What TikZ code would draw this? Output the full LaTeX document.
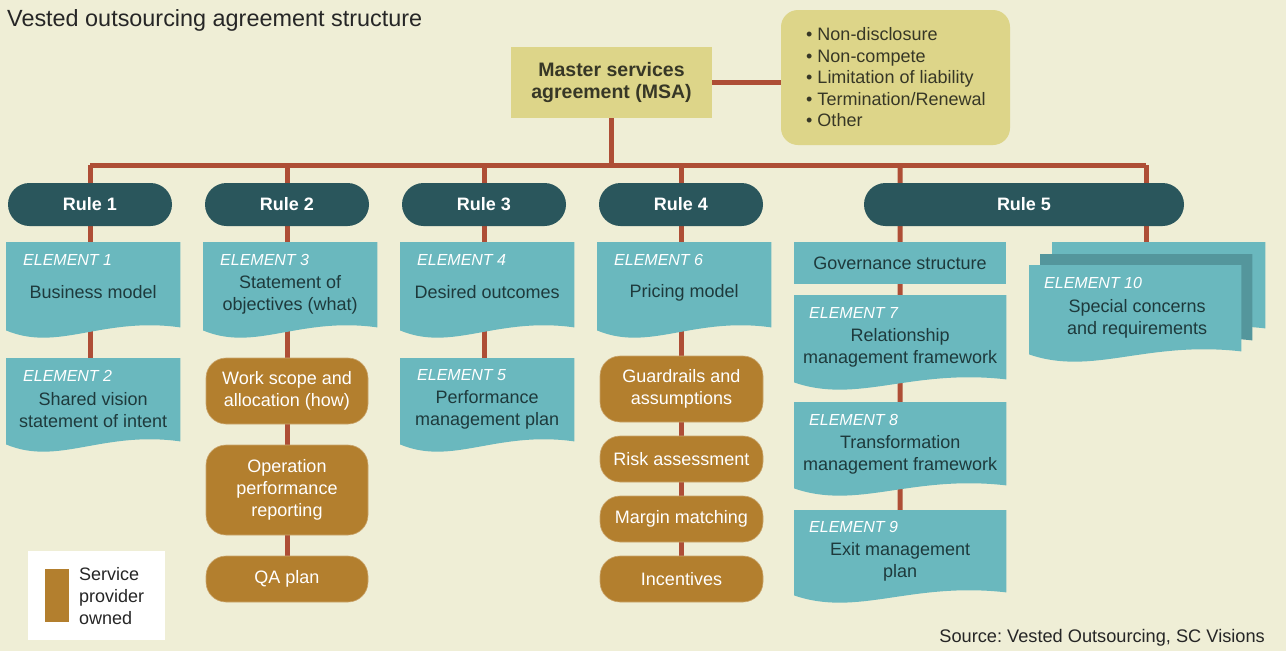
\documentclass[tikz,border=0pt]{standalone}
\usepackage{fontspec}
\setmainfont{Liberation Sans}
\usetikzlibrary{calc}
\frenchspacing
\definecolor{bgc}{RGB}{239,238,214}
\definecolor{sand}{RGB}{221,213,137}
\definecolor{pill}{RGB}{42,86,92}
\definecolor{tealc}{RGB}{106,184,190}
\definecolor{tealdk}{RGB}{84,150,156}
\definecolor{brownc}{RGB}{179,127,46}
\definecolor{redc}{RGB}{174,78,54}
\definecolor{txtdark}{RGB}{30,58,60}
\definecolor{olivetxt}{RGB}{55,55,38}
\pgfdeclarelayer{bglayer}
\pgfdeclarelayer{linelayer}
\pgfdeclarelayer{shapelayer}
\pgfsetlayers{bglayer,linelayer,shapelayer,main}
\newcommand\docshape[2]{%
  \fill[#2] (#1.north west) -- (#1.north east) -- ($(#1.south east)+(0,-3)$)
    .. controls ($(#1.south west)!0.55!(#1.south east)+(0,-14)$) and ($(#1.south west)!0.3!(#1.south east)+(0,22)$) .. (#1.south west) -- cycle;}
\tikzset{
  conn/.style={draw=redc, line width=5pt},
  rulepill/.style={fill=pill, rounded corners=21.5pt, minimum height=43pt, text=white,
    font=\bfseries\fontsize{18}{22}\selectfont, inner sep=0pt},
  docarea/.style={anchor=north west, inner sep=0pt, minimum width=174pt},
  eltext/.style={text=txtdark, font=\fontsize{18}{22}\selectfont, align=center, inner sep=0pt},
  ellabel/.style={text=white, font=\itshape\fontsize{16}{18}\selectfont, anchor=west, inner sep=0pt},
  brownbox/.style={fill=brownc, draw=brownc!70!white, line width=0.6pt, rounded corners=20pt, text=white,
    font=\fontsize{18}{22}\selectfont, align=center, inner sep=0pt},
}
\begin{document}
\begin{tikzpicture}[x=1pt,y=-1pt]
\useasboundingbox (0,0) rectangle (1286,651);
\begin{pgfonlayer}{bglayer}
  \fill[bgc] (0,0) rectangle (1286,651);
\end{pgfonlayer}

% title
\node[anchor=west, inner sep=0pt, text=black!85, font=\fontsize{23.4}{26}\selectfont] (title) at (7,20) {Vested outsourcing agreement structure};

% MSA and clauses
\node[fill=sand, minimum width=201pt, minimum height=71pt, inner sep=0pt, align=center,
  text=olivetxt, font=\bfseries\fontsize{19.5}{22}\selectfont] (msa) at (611.5,82.5) {Master services\\agreement (MSA)};
\node[fill=sand, rounded corners=17pt, minimum width=229pt, minimum height=135pt, inner sep=0pt] (cl) at (895.5,77.5) {};
\node[anchor=west, align=left, inner sep=0pt, text=olivetxt, font=\fontsize{18}{21.5}\selectfont] (cltext) at (806,77.5)
  {• Non-disclosure\\• Non-compete\\• Limitation of liability\\• Termination/Renewal\\• Other};

% rules
\node[rulepill, minimum width=164pt] (r1) at (90,204.5) {Rule 1};
\node[rulepill, minimum width=164pt] (r2) at (287,204.5) {Rule 2};
\node[rulepill, minimum width=164pt] (r3) at (484,204.5) {Rule 3};
\node[rulepill, minimum width=164pt] (r4) at (681,204.5) {Rule 4};
\node[rulepill, minimum width=320pt] (r5) at (1024,204.5) {Rule 5};

% column 1
\node[docarea, minimum height=88pt] (e1) at (6,242) {};
\node[ellabel] (e1l) at ($(e1.north west)+(17,17.5)$) {ELEMENT 1};
\node[eltext] (e1t) at ($(e1.north)+(0,50)$) {Business model};
\node[docarea, minimum height=86pt] (e2) at (6,358) {};
\node[ellabel] (e2l) at ($(e2.north west)+(17,17.5)$) {ELEMENT 2};
\node[eltext] (e2t) at ($(e2.north)+(0,52)$) {Shared vision\\statement of intent};

% column 2
\node[docarea, minimum height=88pt] (e3) at (203,242) {};
\node[ellabel] (e3l) at ($(e3.north west)+(17,17.5)$) {ELEMENT 3};
\node[eltext] (e3t) at ($(e3.north)+(0,52.5)$) {Statement of\\objectives (what)};
\node[brownbox, minimum width=162pt, minimum height=66pt] (ws) at (287,391) {Work scope and\\allocation (how)};
\node[brownbox, minimum width=162pt, minimum height=90pt] (opr) at (287,490) {Operation\\performance\\reporting};
\node[brownbox, minimum width=162pt, minimum height=46pt] (qa) at (287,579) {QA plan};

% column 3
\node[docarea, minimum height=88pt] (e4) at (400,242) {};
\node[ellabel] (e4l) at ($(e4.north west)+(17,17.5)$) {ELEMENT 4};
\node[eltext] (e4t) at ($(e4.north)+(0,50)$) {Desired outcomes};
\node[docarea, minimum height=86pt] (e5) at (400,358) {};
\node[ellabel] (e5l) at ($(e5.north west)+(17,17.5)$) {ELEMENT 5};
\node[eltext] (e5t) at ($(e5.north)+(0,52)$) {Performance\\management plan};

% column 4
\node[docarea, minimum height=88pt] (e6) at (597,242) {};
\node[ellabel] (e6l) at ($(e6.north west)+(17,17.5)$) {ELEMENT 6};
\node[eltext] (e6t) at ($(e6.north)+(0,51)$) {Pricing model};
\node[brownbox, minimum width=163pt, minimum height=66pt] (gr) at (681.5,389) {Guardrails and\\assumptions};
\node[brownbox, minimum width=163pt, minimum height=46pt] (risk) at (681.5,459) {Risk assessment};
\node[brownbox, minimum width=163pt, minimum height=46pt] (mm) at (681.5,519) {Margin matching};
\node[brownbox, minimum width=163pt, minimum height=46pt] (inc) at (681.5,579) {Incentives};

% column 5
\node[fill=tealc, minimum width=212pt, minimum height=42pt, inner sep=0pt, text=txtdark,
  font=\fontsize{18}{22}\selectfont] (gov) at (900,263) {Governance structure};
\node[docarea, minimum width=212pt, minimum height=87pt] (e7) at (794,295) {};
\node[ellabel] (e7l) at ($(e7.north west)+(15,17.5)$) {ELEMENT 7};
\node[eltext] (e7t) at ($(e7.north)+(0,52.5)$) {Relationship\\management framework};
\node[docarea, minimum width=212pt, minimum height=86pt] (e8) at (794,402) {};
\node[ellabel] (e8l) at ($(e8.north west)+(15,17.5)$) {ELEMENT 8};
\node[eltext] (e8t) at ($(e8.north)+(0,53)$) {Transformation\\management framework};
\node[docarea, minimum width=212pt, minimum height=85pt] (e9) at (794,510) {};
\node[ellabel] (e9l) at ($(e9.north west)+(15,16.5)$) {ELEMENT 9};
\node[eltext] (e9t) at ($(e9.north)+(0,52)$) {Exit management\\plan};

% element 10 stack
\node[docarea, minimum width=213pt, minimum height=89pt] (e10b) at (1052,242) {};
\node[docarea, minimum width=212pt, minimum height=89pt] (e10m) at (1040,254) {};
\node[docarea, minimum width=212pt, minimum height=89pt] (e10) at (1029,265) {};
\node[ellabel] (e10l) at ($(e10.north west)+(15,17.5)$) {ELEMENT 10};
\node[eltext] (e10t) at ($(e10.north)+(2,53.5)$) {Special concerns\\and requirements};

% legend
\node[fill=white, anchor=north west, minimum width=137pt, minimum height=89pt, inner sep=0pt] (leg) at (28,551) {};
\node[fill=brownc, anchor=north west, minimum width=24pt, minimum height=53pt, inner sep=0pt] (legsw) at (45,569) {};
\node[anchor=west, align=left, inner sep=0pt, text=black!85, font=\fontsize{18}{22}\selectfont] (legt) at (79,596) {Service\\provider\\owned};

% source
\node[anchor=east, inner sep=0pt, text=black!85, font=\fontsize{18.2}{22}\selectfont] (src) at (1265,638) {Source: Vested Outsourcing, SC Visions};

% document shapes
\begin{pgfonlayer}{shapelayer}
  \docshape{e1}{tealc}
  \docshape{e2}{tealc}
  \docshape{e3}{tealc}
  \docshape{e4}{tealc}
  \docshape{e5}{tealc}
  \docshape{e6}{tealc}
  \docshape{e7}{tealc}
  \docshape{e8}{tealc}
  \docshape{e9}{tealc}
  \docshape{e10b}{tealc}
  \docshape{e10m}{tealdk}
  \docshape{e10}{tealc}
\end{pgfonlayer}

% connectors
\begin{pgfonlayer}{linelayer}
  \coordinate (bar) at (0,165);
  \draw[conn] (msa.east) -- (msa.east -| cl.west);
  \draw[conn] (msa.south) -- (msa.south |- bar);
  \draw[conn] (r1.center |- bar) -- (e10m.north |- bar);
  \draw[conn] (r1.center |- bar) -- (r1.center |- e2.north);
  \draw[conn] (r2.center |- bar) -- (r2.center |- qa.north);
  \draw[conn] (r3.center |- bar) -- (r3.center |- e5.north);
  \draw[conn] (r4.center |- bar) -- (r4.center |- inc.north);
  \draw[conn] (gov.north |- bar) -- (e9.north);
  \draw[conn] (e10m.north |- bar) -- (e10m.north |- e10b.north);
\end{pgfonlayer}
\end{tikzpicture}
\end{document}
